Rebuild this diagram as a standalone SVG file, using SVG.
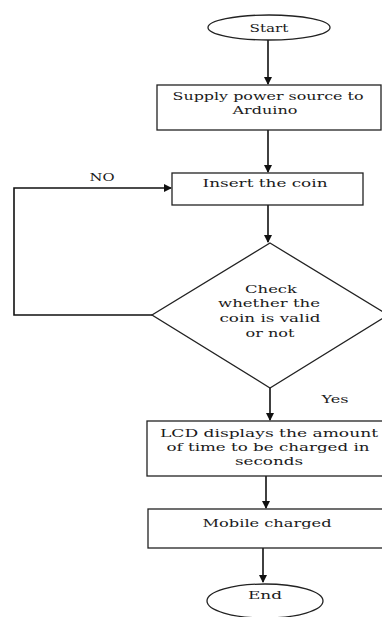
<svg xmlns="http://www.w3.org/2000/svg" width="382" height="617" viewBox="0 0 382 617">
<style>
.s{fill:#fff;stroke:#222;stroke-width:1.3}
.c{fill:none;stroke:#111;stroke-width:1.6}
text{font-family:"DejaVu Serif","Liberation Serif",serif;font-size:11.5px;fill:#1a1a1a;text-anchor:middle}
</style>
<defs>
<marker id="ah" markerWidth="8" markerHeight="8" refX="7" refY="4" orient="auto" markerUnits="userSpaceOnUse">
<path d="M0,0 L8,4 L0,8 Z" fill="#111"/>
</marker>
</defs>
<rect width="382" height="617" fill="#fff"/>
<g id="connectors">
<line class="c" x1="268" y1="40" x2="268" y2="84" marker-end="url(#ah)"/>
<line class="c" x1="268" y1="130" x2="268" y2="172" marker-end="url(#ah)"/>
<line class="c" x1="268" y1="205" x2="268" y2="242" marker-end="url(#ah)"/>
<polyline class="c" points="152,315 14,315 14,188 171,188" marker-end="url(#ah)"/>
<line class="c" x1="270" y1="388" x2="270" y2="420" marker-end="url(#ah)"/>
<line class="c" x1="266" y1="476" x2="266" y2="508" marker-end="url(#ah)"/>
<line class="c" x1="263" y1="548" x2="263" y2="582" marker-end="url(#ah)"/>
<text x="102" y="181" textLength="25" lengthAdjust="spacingAndGlyphs">NO</text>
<text x="335" y="403" textLength="27" lengthAdjust="spacingAndGlyphs">Yes</text>
</g>
<g id="start">
<ellipse class="s" cx="269" cy="27.5" rx="61" ry="12.5"/>
<text x="269" y="32" textLength="39" lengthAdjust="spacingAndGlyphs">Start</text>
</g>
<g id="supply">
<rect class="s" x="157" y="85" width="224" height="45"/>
<text x="268" y="100" textLength="191" lengthAdjust="spacingAndGlyphs">Supply power source to</text>
<text x="265" y="114" textLength="65" lengthAdjust="spacingAndGlyphs">Arduino</text>
</g>
<g id="insert">
<rect class="s" x="172" y="173" width="191" height="32"/>
<text x="265" y="187" textLength="125" lengthAdjust="spacingAndGlyphs">Insert the coin</text>
</g>
<g id="check">
<polygon class="s" points="270,243 388,315 270,388 152,315"/>
<text x="271" y="293" textLength="52" lengthAdjust="spacingAndGlyphs">Check</text>
<text x="269" y="307" textLength="102" lengthAdjust="spacingAndGlyphs">whether the</text>
<text x="270" y="322" textLength="101" lengthAdjust="spacingAndGlyphs">coin is valid</text>
<text x="270" y="337" textLength="49" lengthAdjust="spacingAndGlyphs">or not</text>
</g>
<g id="lcd">
<rect class="s" x="147" y="421" width="236" height="55"/>
<text x="269" y="437" textLength="218" lengthAdjust="spacingAndGlyphs">LCD displays the amount</text>
<text x="268" y="451" textLength="203" lengthAdjust="spacingAndGlyphs">of time to be charged in</text>
<text x="269" y="465" textLength="68" lengthAdjust="spacingAndGlyphs">seconds</text>
</g>
<g id="mobile">
<rect class="s" x="148" y="509" width="235" height="39"/>
<text x="267" y="527" textLength="129" lengthAdjust="spacingAndGlyphs">Mobile charged</text>
</g>
<g id="end">
<ellipse class="s" cx="265" cy="601" rx="58" ry="17"/>
<text x="265" y="599" textLength="34" lengthAdjust="spacingAndGlyphs">End</text>
</g>
</svg>
